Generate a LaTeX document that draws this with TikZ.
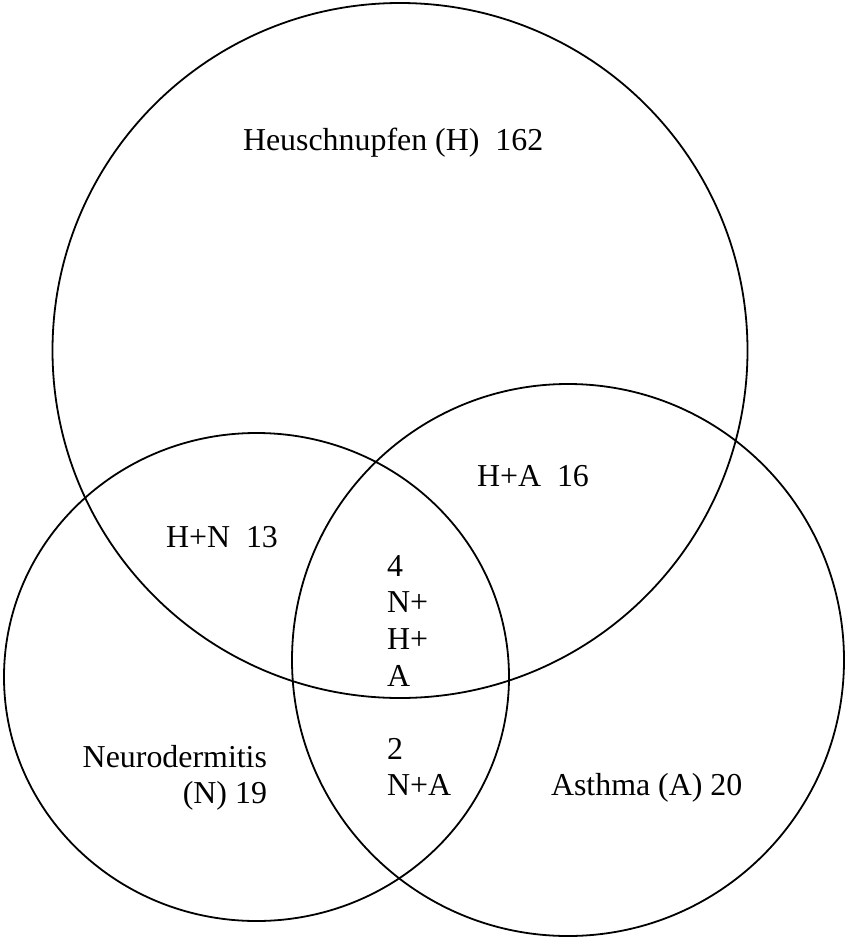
\documentclass[tikz,border=0pt]{standalone}
\usepackage{fontspec}
\setmainfont{Liberation Serif}
\begin{document}
\begin{tikzpicture}[x=1pt,y=-1pt,
  ring/.style={draw=black,line width=1.8pt},
  lbl/.style={inner sep=0pt,outer sep=0pt,font=\fontsize{31.9}{36.7}\selectfont}]
\useasboundingbox (0,0) rectangle (847,937);
\draw[ring] (400,350.5) circle [radius=347.5];
\draw[ring] (256.5,677) ellipse [x radius=252.5, y radius=244];
\draw[ring] (568,660) circle [radius=276];
\node[lbl,anchor=base west] (h) at (243,150) {Heuschnupfen (H)\ \ 162};
\node[lbl,anchor=base west] (hn) at (166,547) {H+N\ \ 13};
\node[lbl,anchor=base west] (ha) at (477,486) {H+A\ \ 16};
\node[lbl,anchor=base west] (nha) at (387,576) {\begin{tabular}[t]{@{}l@{}}4\\N+\\H+\\A\end{tabular}};
\node[lbl,anchor=base west] (na) at (387,759) {\begin{tabular}[t]{@{}l@{}}2\\N+A\end{tabular}};
\node[lbl,anchor=base east] (n) at (267,767) {\begin{tabular}[t]{@{}r@{}}Neurodermitis\\(N) 19\end{tabular}};
\node[lbl,anchor=base west] (a) at (551,795) {Asthma (A) 20};
\end{tikzpicture}
\end{document}
